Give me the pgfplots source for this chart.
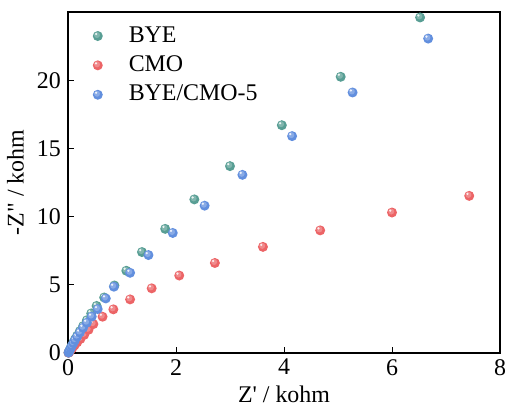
\documentclass[border=0pt]{standalone}
\usepackage{pgfplots}
\pgfplotsset{compat=1.18}
\usepackage{fontspec}
\setmainfont{Liberation Serif}
\definecolor{cbye}{RGB}{88,158,148}
\definecolor{ccmo}{RGB}{236,100,102}
\definecolor{cmix}{RGB}{98,143,222}
\pgfdeclareplotmark{sball}{%
  \pgfpathcircle{\pgfpoint{0pt}{0pt}}{\pgfplotmarksize}\pgfusepath{fill}%
  \begin{pgfscope}\pgfsetfillcolor{white}\pgfsetfillopacity{0.25}%
  \pgfpathcircle{\pgfpoint{-0.15\pgfplotmarksize}{0.2\pgfplotmarksize}}{0.6\pgfplotmarksize}\pgfusepath{fill}\end{pgfscope}%
  \begin{pgfscope}\pgfsetfillcolor{white}\pgfsetfillopacity{0.85}%
  \pgfpathcircle{\pgfpoint{-0.35\pgfplotmarksize}{0.4\pgfplotmarksize}}{0.25\pgfplotmarksize}\pgfusepath{fill}\end{pgfscope}%
}
\begin{document}
\fontsize{24}{28}\selectfont
\begin{tikzpicture}
\begin{axis}[
  name=ax,
  scale only axis,
  width=432bp, height=341bp,
  xmin=0, xmax=8, ymin=0, ymax=25,
  xtick={0,2,4,6,8}, ytick={0,5,10,15,20},
  tick pos=left, tick align=inside,
  major tick length=6bp,
  axis line style={line width=1.1pt},
  every tick/.style={black, line width=1pt},
  /pgf/number format/assume math mode=true,
  xticklabel style={yshift=2bp},
  yticklabel style={xshift=1bp},
  xlabel={Z\textquotesingle\ / kohm},
  ylabel={-Z\textquotedbl\ / kohm},
  xlabel style={yshift=6bp},
  ylabel style={yshift=-3bp},
  legend style={at={(0.05,0.97)}, anchor=north west, draw=none, fill=none,
    row sep=6bp, font=\fontsize{24}{28}\selectfont},
  legend cell align=left,
  legend image code/.code={%
    \path[draw=none,fill=none] (-5bp,-4bp) rectangle (29bp,4bp);
    \draw[#1] plot coordinates {(0bp,0bp)};},
]
\addplot[only marks, mark=sball, mark size=5bp, draw=none, mark options={draw=none, fill=cbye}] coordinates {
(0.01,0.03)(0.02,0.1)(0.03,0.2)(0.05,0.36)(0.07,0.55)(0.1,0.76)(0.13,1.0)(0.17,1.27)(0.22,1.6)(0.28,1.97)(0.35,2.4)(0.43,2.9)(0.53,3.45)(0.67,4.07)(0.86,4.95)(1.08,6.03)(1.37,7.4)(1.8,9.1)(2.34,11.26)(3.0,13.7)(3.96,16.7)(5.05,20.25)(6.52,24.6)
};
\addlegendentry{BYE}
\addplot[only marks, mark=sball, mark size=5bp, draw=none, mark options={draw=none, fill=ccmo}] coordinates {
(0.01,0.02)(0.02,0.06)(0.03,0.12)(0.05,0.22)(0.08,0.36)(0.12,0.55)(0.17,0.78)(0.23,1.03)(0.3,1.33)(0.38,1.7)(0.47,2.12)(0.64,2.66)(0.84,3.2)(1.15,3.93)(1.55,4.74)(2.06,5.68)(2.72,6.6)(3.61,7.78)(4.67,8.99)(6.0,10.3)(7.43,11.52)
};
\addlegendentry{CMO}
\addplot[only marks, mark=sball, mark size=5bp, draw=none, mark options={draw=none, fill=cmix}] coordinates {
(0.01,0.03)(0.02,0.1)(0.03,0.2)(0.05,0.35)(0.07,0.52)(0.1,0.72)(0.13,0.95)(0.17,1.2)(0.22,1.5)(0.28,1.85)(0.35,2.22)(0.44,2.67)(0.55,3.22)(0.70,4.0)(0.85,4.86)(1.15,5.88)(1.49,7.18)(1.94,8.8)(2.53,10.8)(3.23,13.06)(4.15,15.9)(5.27,19.1)(6.67,23.05)
};
\addlegendentry{BYE/CMO-5}
\end{axis}
\path (ax.south west) ++(-68bp,-56bp) coordinate (bbl);
\path (ax.north east) ++(9bp,12bp) coordinate (btr);
\pgfresetboundingbox
\useasboundingbox (bbl) rectangle (btr);
\end{tikzpicture}
\end{document}
